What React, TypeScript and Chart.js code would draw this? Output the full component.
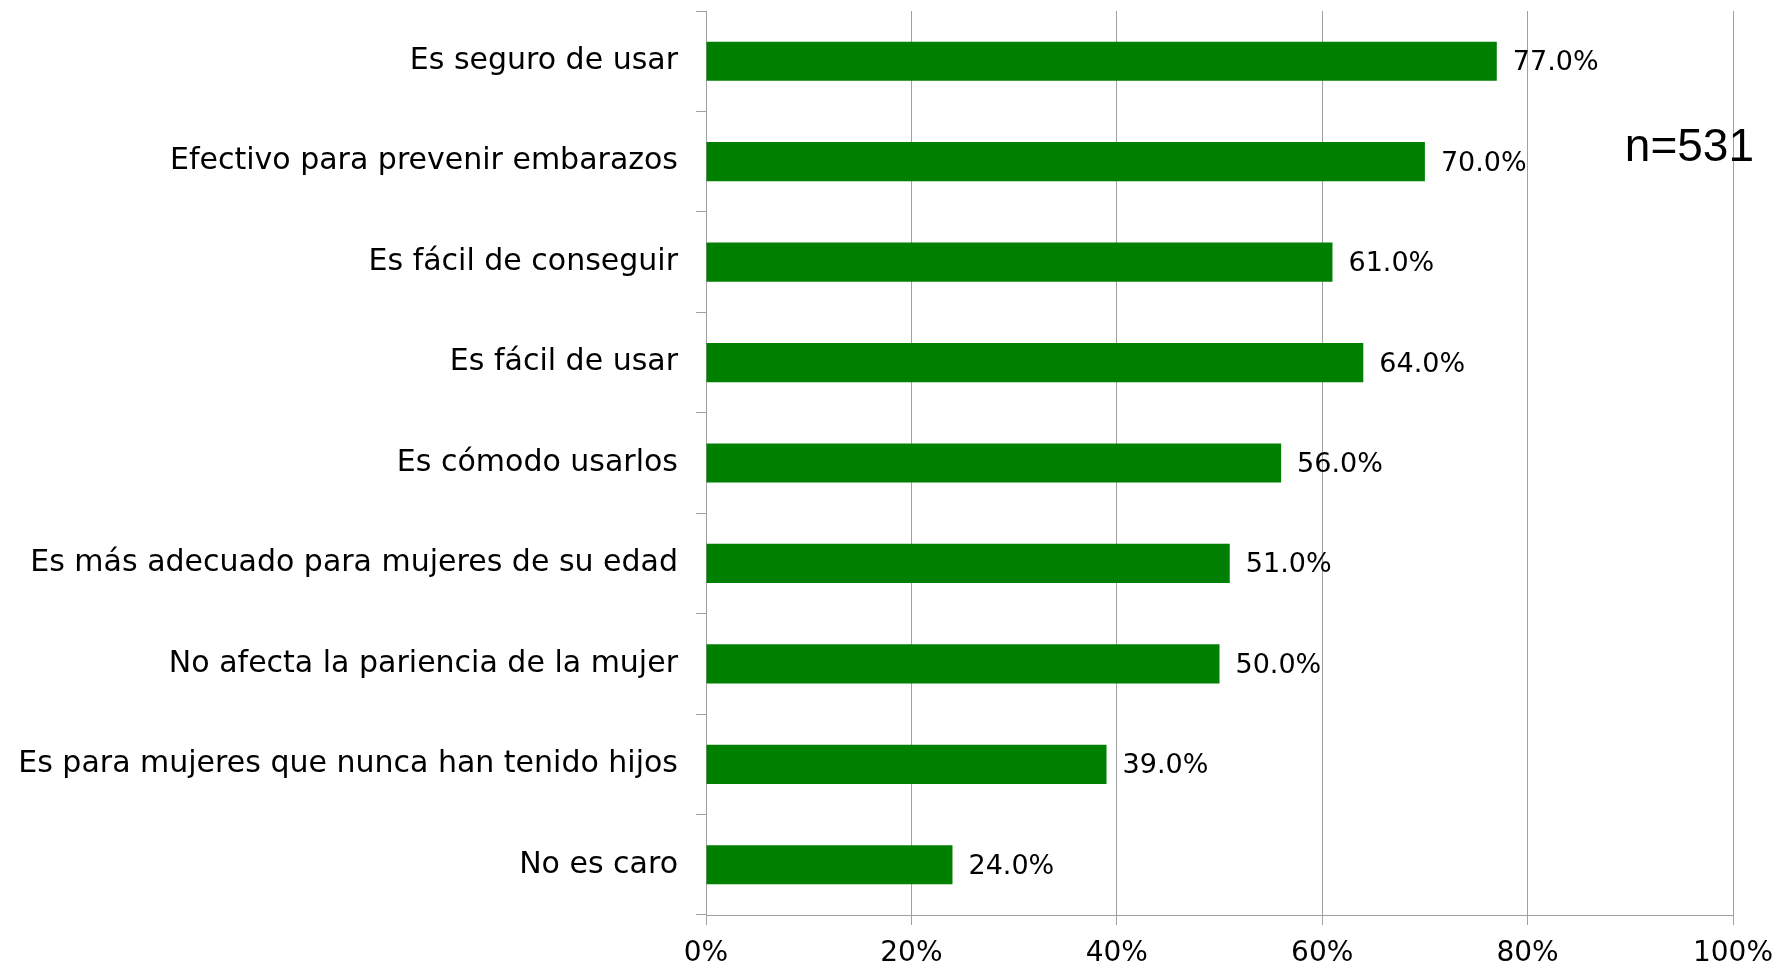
import React, { useEffect, useRef } from "react";
import { Chart, registerables } from "chart.js";

Chart.register(...registerables);

const categories = [
  "Es seguro de usar",
  "Efectivo para prevenir embarazos",
  "Es fácil de conseguir",
  "Es fácil de usar",
  "Es cómodo usarlos",
  "Es más adecuado para mujeres de su edad",
  "No afecta la pariencia de la mujer",
  "Es para mujeres que nunca han tenido hijos",
  "No es caro",
];
const values = [77, 70, 61, 64, 56, 51, 50, 39, 24];
const xTicks = [0, 20, 40, 60, 80, 100];
const noteText = "n=531";

const FONT = "'DejaVu Sans', sans-serif";
const GRID = "#a0a0a0";

const valueLabels = {
  id: "valueLabels",
  afterDatasetsDraw(chart: any) {
    const ctx = chart.ctx;
    const meta = chart.getDatasetMeta(0);
    ctx.save();
    ctx.font = `27px ${FONT}`;
    ctx.fillStyle = "#000";
    ctx.textAlign = "left";
    ctx.textBaseline = "middle";
    meta.data.forEach((bar: any, i: number) => {
      ctx.fillText(values[i].toFixed(1) + "%", bar.x + 16, bar.y + 2);
    });
    ctx.font = `46px 'Liberation Sans', Arial, sans-serif`;
    ctx.textAlign = "right";
    ctx.fillText(noteText, chart.width - 23, 148);
    ctx.restore();
  },
};

export default function App() {
  const ref = useRef<HTMLCanvasElement | null>(null);
  useEffect(() => {
    document.body.style.margin = "0";
    const chart = new Chart(ref.current as HTMLCanvasElement, {
      type: "bar",
      data: {
        labels: categories,
        datasets: [
          {
            data: values,
            backgroundColor: "#008000",
            borderWidth: 0,
            barPercentage: 0.39,
            categoryPercentage: 1,
          },
        ],
      },
      options: {
        indexAxis: "y",
        animation: false,
        responsive: false,
        layout: { padding: { top: 11, right: 44, bottom: 0, left: 0 } },
        plugins: { legend: { display: false }, tooltip: { enabled: false } },
        scales: {
          x: {
            min: 0,
            max: 100,
            afterFit: (s: any) => {
              s.height = 52;
              s.paddingLeft = 0;
              s.paddingRight = 0;
            },
            afterBuildTicks: (s: any) => {
              s.ticks = xTicks.map((v) => ({ value: v }));
            },
            ticks: {
              callback: (v: any) => v + "%",
              color: "#000",
              font: { family: FONT, size: 28 },
              padding: 12,
              maxRotation: 0,
            },
            grid: { color: GRID, lineWidth: 1, tickLength: 10, drawOnChartArea: true },
            border: { color: GRID, width: 1 },
          },
          y: {
            afterFit: (s: any) => {
              s.width = 706;
              s.paddingTop = 0;
              s.paddingBottom = 0;
            },
            ticks: {
              color: "#000",
              font: { family: FONT, size: 30 },
              padding: 18,
            },
            grid: { drawOnChartArea: false, tickLength: 10, color: GRID, offset: true },
            border: { color: GRID, width: 1 },
          },
        },
      },
      plugins: [valueLabels],
    });
    return () => chart.destroy();
  }, []);
  return (
    <div style={{ position: "absolute", left: 0, top: 0, width: 1777, height: 967, background: "#fff" }}>
      <canvas ref={ref} width={1777} height={967} style={{ width: 1777, height: 967 }} />
    </div>
  );
}
